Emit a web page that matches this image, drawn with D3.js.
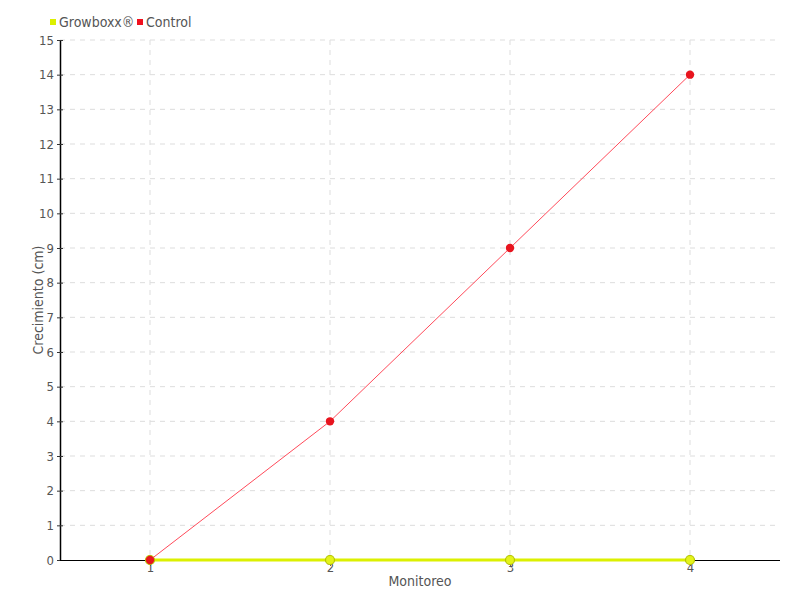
<!DOCTYPE html>
<html lang="es">
<head>
<meta charset="UTF-8">
<title>Crecimiento</title>
<script src="https://d3js.org/d3.v7.min.js"></script>
<style>
    body { margin: 0; background: #fff; }
    svg text { font-family: "DejaVu Sans", sans-serif; font-stretch: condensed; fill: #555; }
    .grid line { stroke: #ddd; stroke-dasharray: 5,5; }
</style>
</head>
<body>
<svg width="800" height="600"></svg>
<script>
    const monitoreo = [1, 2, 3, 4];
    const growboxx = [0, 0, 0, 0];
    const control = [0, 4, 9, 14];
    const yTicks = d3.range(0, 16);

    const svg = d3.select("svg");
    const margin = {left: 60, right: 20, top: 40, bottom: 40};
    const width = 800, height = 600;

    const x = d3.scaleLinear().domain([0.5, 4.5]).range([margin.left, width - margin.right]);
    const y = d3.scaleLinear().domain([0, 15]).range([height - margin.bottom, margin.top]);

    // grid
    const grid = svg.append("g").attr("class", "grid");
    grid.selectAll(".h").data(yTicks.slice(1)).enter().append("line")
        .attr("x1", margin.left).attr("x2", width - margin.right)
        .attr("y1", d => y(d)).attr("y2", d => y(d));
    grid.selectAll(".v").data(monitoreo).enter().append("line")
        .attr("x1", d => x(d)).attr("x2", d => x(d))
        .attr("y1", margin.top).attr("y2", y(0));

    // axes
    const yAxis = svg.append("g").attr("transform", `translate(${margin.left},0)`)
        .call(d3.axisLeft(y).tickValues(yTicks).tickSize(3).tickSizeOuter(0));
    yAxis.select(".domain").attr("stroke", "#000").attr("stroke-width", 1.5);
    yAxis.selectAll(".tick line").attr("stroke", "#333").attr("x2", 3).attr("x1", -3);
    yAxis.selectAll("text").attr("x", -6).style("font-size", "13px");

    const xAxis = svg.append("g").attr("transform", `translate(0,${y(0)})`)
        .call(d3.axisBottom(x).tickValues(monitoreo).tickFormat(d3.format("d")).tickSize(6).tickSizeOuter(0));
    xAxis.select(".domain").attr("stroke", "#000").attr("stroke-width", 1.2)
        .attr("d", `M${margin.left},0.5H${width - margin.right}`);
    xAxis.selectAll(".tick line").attr("stroke", "#666");
    xAxis.selectAll("text").attr("y", 3).style("font-size", "13px");

    // axis titles
    svg.append("text").attr("x", x(2.5)).attr("y", 586).attr("text-anchor", "middle")
        .style("font-size", "14px").text("Monitoreo");
    svg.append("text").attr("transform", `translate(43,${y(7.5)}) rotate(-90)`)
        .attr("text-anchor", "middle").style("font-size", "14px").text("Crecimiento (cm)");

    const line = d3.line().x((d, i) => x(monitoreo[i])).y(d => y(d));

    // Growboxx
    svg.append("path").datum(growboxx).attr("d", line)
        .attr("fill", "none").attr("stroke", "#dcf000").attr("stroke-width", 3);
    svg.selectAll(".gb").data(growboxx).enter().append("circle")
        .attr("cx", (d, i) => x(monitoreo[i])).attr("cy", d => y(d)).attr("r", 4.5)
        .attr("fill", "#e4f31a").attr("stroke", "#b5c400").attr("stroke-width", 1.2);

    // Control
    svg.append("path").datum(control).attr("d", line)
        .attr("fill", "none").attr("stroke", "#ff4a5a").attr("stroke-width", 1);
    svg.selectAll(".ct").data(control).enter().append("circle")
        .attr("cx", (d, i) => x(monitoreo[i])).attr("cy", d => y(d)).attr("r", 4.2)
        .attr("fill", "#e8141e");

    // legend
    const legend = [{name: "Growboxx®", color: "#dcf000", x: 50}, {name: "Control", color: "#f0101e", x: 137}];
    legend.forEach(l => {
        svg.append("rect").attr("x", l.x).attr("y", 19).attr("width", 6).attr("height", 6).attr("fill", l.color);
        svg.append("text").attr("x", l.x + 9).attr("y", 27).style("font-size", "14px").text(l.name);
    });
</script>
</body>
</html>
